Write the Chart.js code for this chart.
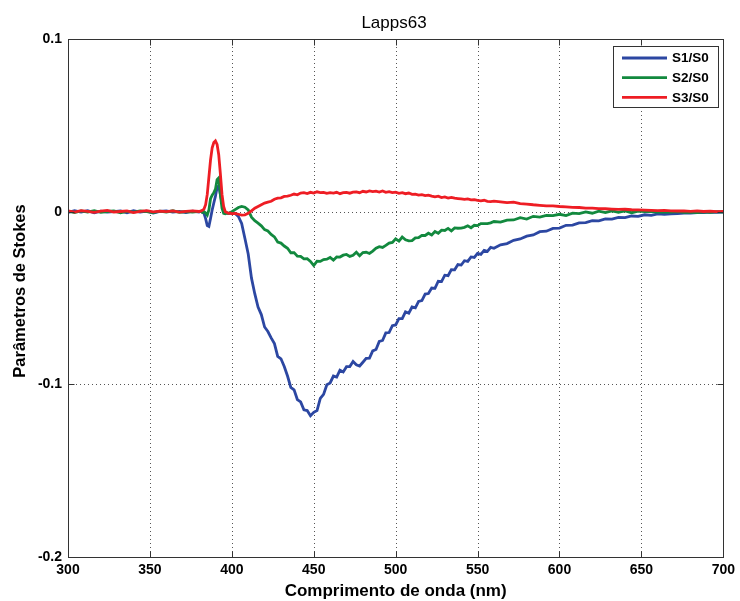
<!DOCTYPE html>
<html>
<head>
<meta charset="utf-8">
<script src="https://cdn.jsdelivr.net/npm/chart.js@4.4.1/dist/chart.umd.min.js"></script>
<style>
html,body{margin:0;padding:0;background:#fff;}
#wrap{width:740px;height:601px;}
</style>
</head>
<body>
<div id="wrap"><canvas id="c" width="740" height="601"></canvas></div>
<script>
// ---------- data ----------
const chartTitle = "Lapps63";
const xTitle = "Comprimento de onda (nm)";
const yTitle = "Parâmetros de Stokes";
const seriesNames = ["S1/S0", "S2/S0", "S3/S0"];
const xTicks = [300, 350, 400, 450, 500, 550, 600, 650, 700];
const yTicks = [-0.2, -0.1, 0, 0.1];
const yTickLabels = ["-0.2", "-0.1", "0", "0.1"];

const wavelength = [
300,304,308,312,316,320,324,328,332,336,340,344,348,352,356,360,364,368,372,376,380,
381,382,383,384,385,386,387,388,389,390,391,392,393,394,395,396,397,398,399,400,
402,404,406,408,410,412,414,416,418,420,422,424,426,428,430,432,434,436,438,440,
442,444,446,448,450,452,454,456,458,460,462,464,466,468,470,472,474,476,478,480,
482,484,486,488,490,492,494,496,498,500,502,504,506,508,510,512,514,516,518,520,
522,524,526,528,530,532,534,536,538,540,542,544,546,548,550,552,554,556,558,560,
564,568,572,576,580,584,588,592,596,600,604,608,612,616,620,624,628,632,636,640,
644,648,652,656,660,664,668,672,676,680,684,688,692,696,700
];

const s1 = [
-0.0004,0.0005,-0.0002,0.0006,-0.0007,0.0003,-0.0003,0.0000,0.0004,-0.0006,0.0005,-0.0002,0.0003,-0.0008,0.0001,0.0004,-0.0003,0.0002,-0.0005,0.0003,-0.0002,
0.0002,-0.0003,-0.0010,-0.0040,-0.0080,-0.0085,-0.0040,0.0010,0.0050,0.0090,0.0140,0.0150,0.0100,0.0050,0.0010,-0.0005,-0.0008,-0.0010,-0.0008,-0.0010,
-0.0010,-0.0028,-0.0068,-0.0155,-0.0245,-0.0385,-0.0475,-0.0552,-0.0596,-0.0668,
-0.0694,-0.0731,-0.0764,-0.0838,-0.0852,-0.0897,-0.0952,-0.1018,-0.1032,-0.1088,
-0.1102,-0.1148,-0.1152,-0.1182,-0.1162,-0.1152,-0.1082,-0.1058,-0.1002,-0.0992,
-0.0952,-0.0958,-0.0918,-0.0928,-0.0898,-0.0897,-0.0868,-0.0887,-0.0894,-0.0872,
-0.0850,-0.0848,-0.0806,-0.0798,-0.0752,-0.0746,-0.0702,-0.0700,-0.0660,-0.0656,
-0.0620,-0.0619,-0.0580,-0.0588,-0.0552,-0.0557,-0.0520,-0.0515,-0.0477,-0.0474,
-0.0442,-0.0444,-0.0403,-0.0405,-0.0368,-0.0371,-0.0336,-0.0337,-0.0306,-0.0309,
-0.0284,-0.0288,-0.0262,-0.0265,-0.0242,-0.0247,-0.0224,-0.0230,-0.0207,-0.0212,
-0.0192,-0.0185,-0.0166,-0.0158,-0.0142,-0.0135,-0.0116,-0.0113,-0.0097,-0.0095,
-0.0079,-0.0078,-0.0065,-0.0063,-0.0052,-0.0053,-0.0042,-0.0043,-0.0033,-0.0035,
-0.0025,-0.0027,-0.0018,-0.0021,-0.0013,-0.0015,-0.0012,-0.0011,-0.0008,-0.0008,
-0.0006,-0.0006,-0.0003,-0.0004,-0.0002
];

const s2 = [
0.0003,-0.0005,0.0004,-0.0002,0.0006,-0.0004,0.0001,0.0005,-0.0006,0.0002,-0.0003,0.0004,0.0000,-0.0005,0.0003,-0.0002,0.0005,-0.0004,0.0001,-0.0003,0.0002,
0.0002,-0.0004,0.0000,-0.0008,-0.0020,0.0010,0.0075,0.0095,0.0110,0.0130,0.0185,0.0195,0.0100,0.0020,-0.0010,-0.0012,-0.0008,-0.0010,-0.0005,0.0000,
0.0012,0.0024,0.0030,0.0026,0.0010,-0.0032,-0.0052,-0.0066,-0.0082,-0.0104,
-0.0112,-0.0132,-0.0146,-0.0176,-0.0182,-0.0199,-0.0212,-0.0238,-0.0237,-0.0258,
-0.0259,-0.0273,-0.0272,-0.0288,-0.0312,-0.0287,-0.0288,-0.0277,-0.0275,-0.0265,
-0.0281,-0.0262,-0.0263,-0.0252,-0.0248,-0.0259,-0.0253,-0.0235,-0.0255,-0.0237,
-0.0235,-0.0242,-0.0228,-0.0212,-0.0203,-0.0207,-0.0195,-0.0182,-0.0178,-0.0157,
-0.0171,-0.0147,-0.0163,-0.0169,-0.0168,-0.0152,-0.0151,-0.0137,-0.0138,-0.0125,
-0.0135,-0.0115,-0.0125,-0.0107,-0.0109,-0.0097,-0.0111,-0.0094,-0.0096,-0.0095,
-0.0091,-0.0082,-0.0093,-0.0079,-0.0081,-0.0069,-0.0069,-0.0069,-0.0065,-0.0057,
-0.0061,-0.0049,-0.0048,-0.0035,-0.0043,-0.0027,-0.0031,-0.0021,-0.0023,-0.0015,
-0.0023,-0.0009,-0.0011,-0.0001,-0.0009,0.0003,-0.0005,0.0005,-0.0004,0.0004,
-0.0006,0.0003,0.0000,0.0001,-0.0002,-0.0001,-0.0003,0.0000,-0.0004,-0.0002,
-0.0005,-0.0001,-0.0004,0.0000,-0.0003
];

const s3 = [
0.0005,-0.0003,0.0006,0.0002,-0.0004,0.0003,0.0007,-0.0002,0.0001,0.0004,-0.0005,0.0002,0.0006,-0.0001,0.0003,0.0000,0.0005,-0.0003,0.0002,0.0004,0.0001,
0.0003,0.0008,0.0015,0.0040,0.0100,0.0200,0.0300,0.0370,0.0400,0.0410,0.0390,0.0330,0.0220,0.0100,0.0030,0.0000,-0.0005,-0.0010,-0.0008,-0.0012,
-0.0010,-0.0015,-0.0020,-0.0018,-0.0010,0.0005,0.0020,0.0030,0.0040,0.0050,
0.0055,0.0060,0.0072,0.0078,0.0080,0.0088,0.0090,0.0095,0.0102,0.0098,
0.0108,0.0110,0.0105,0.0112,0.0108,0.0115,0.0110,0.0112,0.0106,0.0110,
0.0108,0.0112,0.0104,0.0110,0.0112,0.0107,0.0113,0.0115,0.0110,0.0118,
0.0114,0.0120,0.0116,0.0119,0.0114,0.0120,0.0112,0.0116,0.0110,0.0113,
0.0106,0.0110,0.0104,0.0108,0.0100,0.0102,0.0096,0.0099,0.0093,0.0096,
0.0090,0.0086,0.0090,0.0082,0.0085,0.0079,0.0083,0.0078,0.0076,0.0074,
0.0071,0.0074,0.0068,0.0070,0.0066,0.0063,0.0066,0.0060,0.0058,0.0061,
0.0057,0.0052,0.0055,0.0046,0.0044,0.0040,0.0037,0.0034,0.0033,0.0030,
0.0028,0.0025,0.0024,0.0021,0.0020,0.0018,0.0017,0.0015,0.0013,0.0014,
0.0011,0.0010,0.0009,0.0008,0.0006,0.0007,0.0005,0.0004,0.0005,0.0002,
0.0004,0.0001,0.0003,0.0000,0.0002
];

const seriesColors = ["#2c47a2", "#12893e", "#ee1d24"];
// -----------------------------------------------------------

const FONT = "'Liberation Sans', Arial, sans-serif";
function pts(arr){ return wavelength.map((x,i)=>({x:x, y:arr[i]})); }

const decor = {
  id: 'decor',
  beforeDraw(chart){
    const ctx = chart.ctx;
    ctx.save();
    ctx.fillStyle = '#fff';
    ctx.fillRect(0,0,chart.width,chart.height);
    ctx.restore();
  },
  beforeDatasetsDraw(chart){
    const ctx = chart.ctx, a = chart.chartArea;
    const xs = chart.scales.x, ys = chart.scales.y;
    ctx.save();
    ctx.strokeStyle = '#555';
    ctx.lineWidth = 1;
    ctx.setLineDash([1,3]);
    xTicks.slice(1,-1).forEach(v=>{
      const px = Math.round(xs.getPixelForValue(v))+0.5;
      ctx.beginPath(); ctx.moveTo(px,a.top); ctx.lineTo(px,a.bottom); ctx.stroke();
    });
    yTicks.slice(1,-1).forEach(v=>{
      const py = Math.round(ys.getPixelForValue(v))+0.5;
      ctx.beginPath(); ctx.moveTo(a.left,py); ctx.lineTo(a.right,py); ctx.stroke();
    });
    ctx.restore();
  },
  afterDatasetsDraw(chart){
    const ctx = chart.ctx, a = chart.chartArea;
    const xs = chart.scales.x, ys = chart.scales.y;
    ctx.save();
    ctx.strokeStyle = '#333';
    ctx.lineWidth = 1;
    ctx.setLineDash([]);
    const L = Math.round(a.left)+0.5, R = Math.round(a.right)+0.5, T = Math.round(a.top)+0.5, B = Math.round(a.bottom)+0.5;
    ctx.strokeRect(L, T, R-L, B-T);
    const tl = 6;
    ctx.beginPath();
    xTicks.forEach(v=>{
      const px = Math.round(xs.getPixelForValue(v))+0.5;
      ctx.moveTo(px,B); ctx.lineTo(px,B-tl);
      ctx.moveTo(px,T); ctx.lineTo(px,T+tl);
    });
    yTicks.forEach(v=>{
      const py = Math.round(ys.getPixelForValue(v))+0.5;
      ctx.moveTo(L,py); ctx.lineTo(L+tl,py);
      ctx.moveTo(R,py); ctx.lineTo(R-tl,py);
    });
    ctx.stroke();

    // legend
    const lx0 = 613.5, ly0 = 46.5, lw = 105, lh = 61;
    ctx.fillStyle = '#fff';
    ctx.fillRect(lx0, ly0, lw, lh);
    ctx.strokeStyle = '#333';
    ctx.strokeRect(lx0, ly0, lw, lh);
    ctx.font = "bold 13.5px " + FONT;
    ctx.textBaseline = 'middle';
    ctx.textAlign = 'left';
    seriesNames.forEach((n,i)=>{
      const yy = 58 + i*19.7;
      ctx.strokeStyle = seriesColors[i];
      ctx.lineWidth = 2.8;
      ctx.beginPath(); ctx.moveTo(622, yy); ctx.lineTo(667, yy); ctx.stroke();
      ctx.fillStyle = '#000';
      ctx.fillText(n, 672, yy+0.5);
    });

    ctx.fillStyle = '#000';
    ctx.textAlign = 'center';
    ctx.textBaseline = 'alphabetic';
    ctx.font = "17px " + FONT;
    ctx.fillText(chartTitle, 394, 28);
    ctx.font = "bold 17px " + FONT;
    ctx.fillText(xTitle, (a.left+a.right)/2, 596);
    ctx.save();
    ctx.translate(20, 291);
    ctx.rotate(-Math.PI/2);
    ctx.textBaseline = 'middle';
    ctx.font = "bold 16.5px " + FONT;
    ctx.fillText(yTitle, 0, 0);
    ctx.restore();
    ctx.restore();
  }
};

new Chart(document.getElementById('c'), {
  type: 'scatter',
  data: {
    datasets: [
      {label: seriesNames[0], data: pts(s1), borderColor: seriesColors[0], order: 2},
      {label: seriesNames[1], data: pts(s2), borderColor: seriesColors[1], order: 1},
      {label: seriesNames[2], data: pts(s3), borderColor: seriesColors[2], order: 0}
    ].map(d=>Object.assign(d,{showLine:true, pointRadius:0, borderWidth:2.8, tension:0, fill:false}))
  },
  options: {
    responsive: false,
    animation: false,
    layout: {padding: {top: 39, right: 16, left: 0, bottom: 0}},
    plugins: {legend: {display: false}, title: {display: false}, tooltip: {enabled: false}},
    scales: {
      x: {
        type: 'linear', min: 300, max: 700,
        afterBuildTicks: s => { s.ticks = xTicks.map(v=>({value:v})); },
        afterFit: s => { s.height = 44; },
        grid: {display: false, drawTicks: false},
        border: {display: false},
        ticks: {color: '#000', font: {family: FONT, size: 14, weight: 'bold'}, padding: 5, maxRotation: 0,
                callback: v => String(v)}
      },
      y: {
        type: 'linear', min: -0.2, max: 0.1,
        afterBuildTicks: s => { s.ticks = yTicks.map(v=>({value:v})); },
        afterFit: s => { s.width = 68; },
        grid: {display: false, drawTicks: false},
        border: {display: false},
        ticks: {color: '#000', font: {family: FONT, size: 14, weight: 'bold'}, padding: 6,
                callback: v => { const i = yTicks.findIndex(t=>Math.abs(t-v)<1e-9); return i>=0 ? yTickLabels[i] : ''; }}
      }
    }
  },
  plugins: [decor]
});
</script>
</body>
</html>
